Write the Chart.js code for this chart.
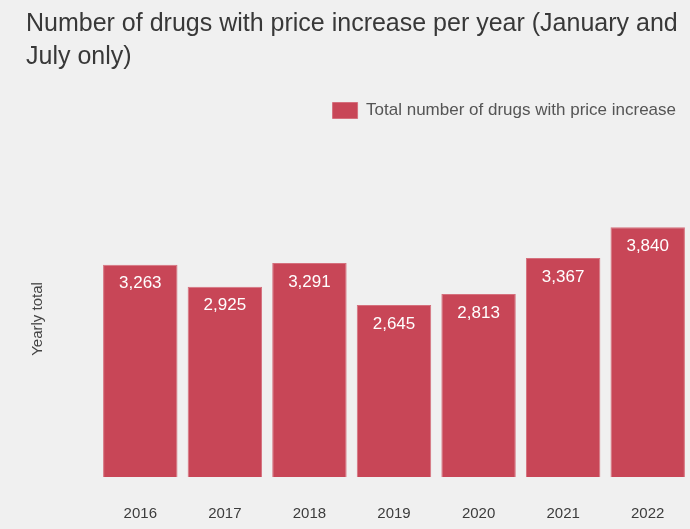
<!DOCTYPE html>
<html lang="en">
<head>
    <meta charset="UTF-8">
    <title>Drugs with price increase</title>
    <script src="https://cdn.jsdelivr.net/npm/chart.js"></script>
    <style>
        html, body {
            margin: 0;
            padding: 0;
            background: #f0f0f0;
            overflow: hidden;
        }
        .container {
            width: 690px;
            height: 529px;
        }
    </style>
</head>
<body>
    <div class="container"><canvas id="chart"></canvas></div>

    <script>
        const years = ['2016', '2017', '2018', '2019', '2020', '2021', '2022'];
        const totals = [3263, 2925, 3291, 2645, 2813, 3367, 3840];
        const seriesName = 'Total number of drugs with price increase';
        const titleLines = ['Number of drugs with price increase per year (January and', 'July only)'];
        const yTitle = 'Yearly total';

        const font = '"Liberation Sans", Arial, sans-serif';

        // white value labels inside the top of each bar
        const barLabels = {
            id: 'barLabels',
            afterDatasetsDraw(chart) {
                const ctx = chart.ctx;
                const meta = chart.getDatasetMeta(0);
                ctx.save();
                ctx.fillStyle = '#ffffff';
                ctx.font = '17px ' + font;
                ctx.textAlign = 'center';
                ctx.textBaseline = 'middle';
                meta.data.forEach((bar, i) => {
                    ctx.fillText(totals[i].toLocaleString('en-US'), bar.x, bar.y + 19);
                });
                ctx.restore();
            }
        };

        // y axis title sits a bit below the middle of the plot
        const yAxisTitle = {
            id: 'yAxisTitle',
            afterDraw(chart) {
                const ctx = chart.ctx;
                const area = chart.chartArea;
                ctx.save();
                ctx.translate(38, (area.top + area.bottom) / 2 + 16);
                ctx.rotate(-Math.PI / 2);
                ctx.fillStyle = '#444444';
                ctx.font = '15px ' + font;
                ctx.textAlign = 'center';
                ctx.textBaseline = 'middle';
                ctx.fillText(yTitle, 0, 0);
                ctx.restore();
            }
        };

        new Chart(document.getElementById('chart').getContext('2d'), {
            type: 'bar',
            data: {
                labels: years,
                datasets: [{
                    label: seriesName,
                    data: totals,
                    backgroundColor: '#c84657',
                    borderColor: '#d5707d',
                    borderWidth: 1,
                    barPercentage: 0.88,
                    categoryPercentage: 1
                }]
            },
            options: {
                responsive: true,
                maintainAspectRatio: false,
                animation: false,
                layout: { padding: { left: 26, right: 0, top: 0, bottom: 0 } },
                plugins: {
                    title: {
                        display: true,
                        text: titleLines,
                        align: 'start',
                        color: '#383838',
                        font: { family: font, size: 25, weight: 'normal', lineHeight: 1.32 },
                        padding: { top: 8, bottom: 14 }
                    },
                    legend: {
                        align: 'end',
                        labels: {
                            boxWidth: 25,
                            boxHeight: 16,
                            color: '#555555',
                            padding: 14,
                            font: { family: font, size: 17 }
                        }
                    },
                    tooltip: { enabled: false }
                },
                scales: {
                    x: {
                        grid: { display: false },
                        border: { display: false },
                        ticks: {
                            color: '#3c3c3c',
                            padding: 20,
                            font: { family: font, size: 15 }
                        },
                        afterFit(scale) { scale.height = 52; }
                    },
                    y: {
                        min: 0,
                        max: 5350,
                        grid: { display: false },
                        border: { display: false },
                        ticks: { display: false },
                        afterFit(scale) { scale.width = 72; }
                    }
                }
            },
            plugins: [barLabels, yAxisTitle]
        });
    </script>
</body>
</html>
